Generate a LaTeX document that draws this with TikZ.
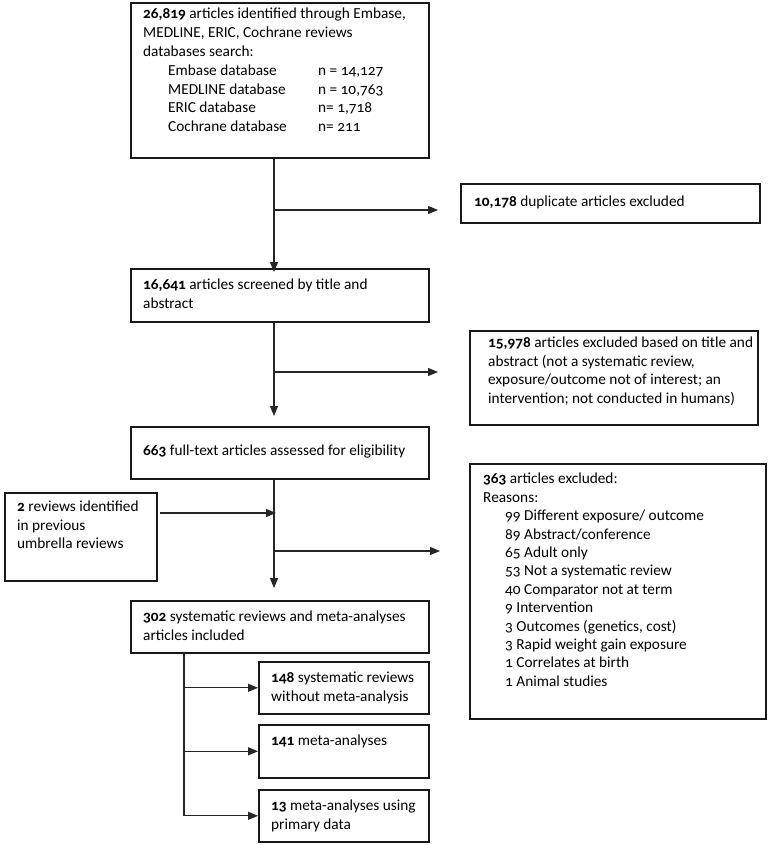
\documentclass[tikz,border=0pt]{standalone}
\usepackage{fontspec}
\setmainfont{Carlito}[Numbers=OldStyle]
\usetikzlibrary{arrows.meta}
\newcommand\fsz{\fontsize{15.3}{18.4}\selectfont}
\newcommand\fszb{\fontsize{15.3}{18.8}\selectfont}
\begin{document}
\begin{tikzpicture}[x=1pt,y=-1pt,
  box/.style={draw=black!90, line width=1.6pt, anchor=north west, inner sep=0pt},
  txt/.style={anchor=north west, align=left, inner sep=0pt, font=\fsz},
  ln/.style={line width=1.1pt, draw=black!85},
  arr/.style={ln, -{Triangle[length=10pt,width=8pt]}}]
\fill[white] (0,0) rectangle (771,845);
\useasboundingbox (0,0) rectangle (771,845);

% boxes
\node[box, minimum width=298, minimum height=155] (b1) at (130,2) {};
\node[box, minimum width=299, minimum height=39] (dup) at (460,183) {};
\node[box, minimum width=298, minimum height=53] (b2) at (130,268) {};
\node[box, minimum width=288, minimum height=94] (ex1) at (469,330) {};
\node[box, minimum width=298, minimum height=52] (b3) at (130,426) {};
\node[box, minimum width=296, minimum height=255] (ex2) at (469,463) {};
\node[box, minimum width=152, minimum height=88] (rev) at (4,492) {};
\node[box, minimum width=298, minimum height=52] (b4) at (130,600) {};
\node[box, minimum width=170, minimum height=52] (s1) at (258,661) {};
\node[box, minimum width=170, minimum height=53] (s2) at (258,724) {};
\node[box, minimum width=170, minimum height=52] (s3) at (258,789) {};

% texts
\node[txt, font=\fszb] (t1) at (143,8) {\textbf{26,819} articles identified through Embase,\\
MEDLINE, ERIC, Cochrane reviews\\
databases search:\\
\hspace*{25pt}\makebox[150pt][l]{Embase database}n = 14,127\\
\hspace*{25pt}\makebox[150pt][l]{MEDLINE database}n = 10,763\\
\hspace*{25pt}\makebox[150pt][l]{ERIC database}n= 1,718\\
\hspace*{25pt}\makebox[150pt][l]{Cochrane database}n= 211};
\node[txt] (tdup) at (474,196) {\textbf{10,178} duplicate articles excluded};
\node[txt] (t2) at (143,279) {\textbf{16,641} articles screened by title and\\abstract};
\node[txt] (tex1) at (488,337) {\textbf{15,978} articles excluded based on title and\\
abstract (not a systematic review,\\
exposure/outcome not of interest; an\\
intervention; not conducted in humans)};
\node[txt] (t3) at (143,445) {\textbf{663} full-text articles assessed for eligibility};
\node[txt] (tex2) at (483,473) {\textbf{363} articles excluded:\\
Reasons:\\
\hspace*{22pt}99 Different exposure/ outcome\\
\hspace*{22pt}89 Abstract/conference\\
\hspace*{22pt}65 Adult only\\
\hspace*{22pt}53 Not a systematic review\\
\hspace*{22pt}40 Comparator not at term\\
\hspace*{22pt}9 Intervention\\
\hspace*{22pt}3 Outcomes (genetics, cost)\\
\hspace*{22pt}3 Rapid weight gain exposure\\
\hspace*{22pt}1 Correlates at birth\\
\hspace*{22pt}1 Animal studies};
\node[txt] (trev) at (17,501) {\textbf{2} reviews identified\\in previous\\umbrella reviews};
\node[txt] (t4) at (143,611) {\textbf{302} systematic reviews and meta-analyses\\articles included};
\node[txt] (ts1) at (271,672) {\textbf{148} systematic reviews\\without meta-analysis};
\node[txt] (ts2) at (271,735) {\textbf{141} meta-analyses};
\node[txt] (ts3) at (271,800) {\textbf{13} meta-analyses using\\primary data};

% connectors
\coordinate (sp) at (274,0);
\coordinate (br) at (184,0);
\coordinate (e1) at (438,210);
\coordinate (e2) at (438,372);
\coordinate (e3) at (440,551);
\coordinate (e4) at (160,513);

\draw[arr] (sp |- b1.south) -- ([yshift=-4pt]sp |- b2.north);
\draw[arr] (sp |- e1) -- (e1);
\draw[arr] (sp |- b2.south) -- ([yshift=10pt]sp |- b3.north);
\draw[arr] (sp |- e2) -- (e2);
\draw[arr] (sp |- b3.south) -- ([yshift=12pt]sp |- b4.north);
\draw[arr] (sp |- e3) -- (e3);
\draw[arr] (e4) -- ([xshift=2pt]sp |- e4);
\draw[ln] (br |- b4.south) -- (br |- s3.west);
\draw[arr] (br |- s1.west) -- (s1.west);
\draw[arr] (br |- s2.west) -- (s2.west);
\draw[arr] (br |- s3.west) -- (s3.west);
\end{tikzpicture}
\end{document}
